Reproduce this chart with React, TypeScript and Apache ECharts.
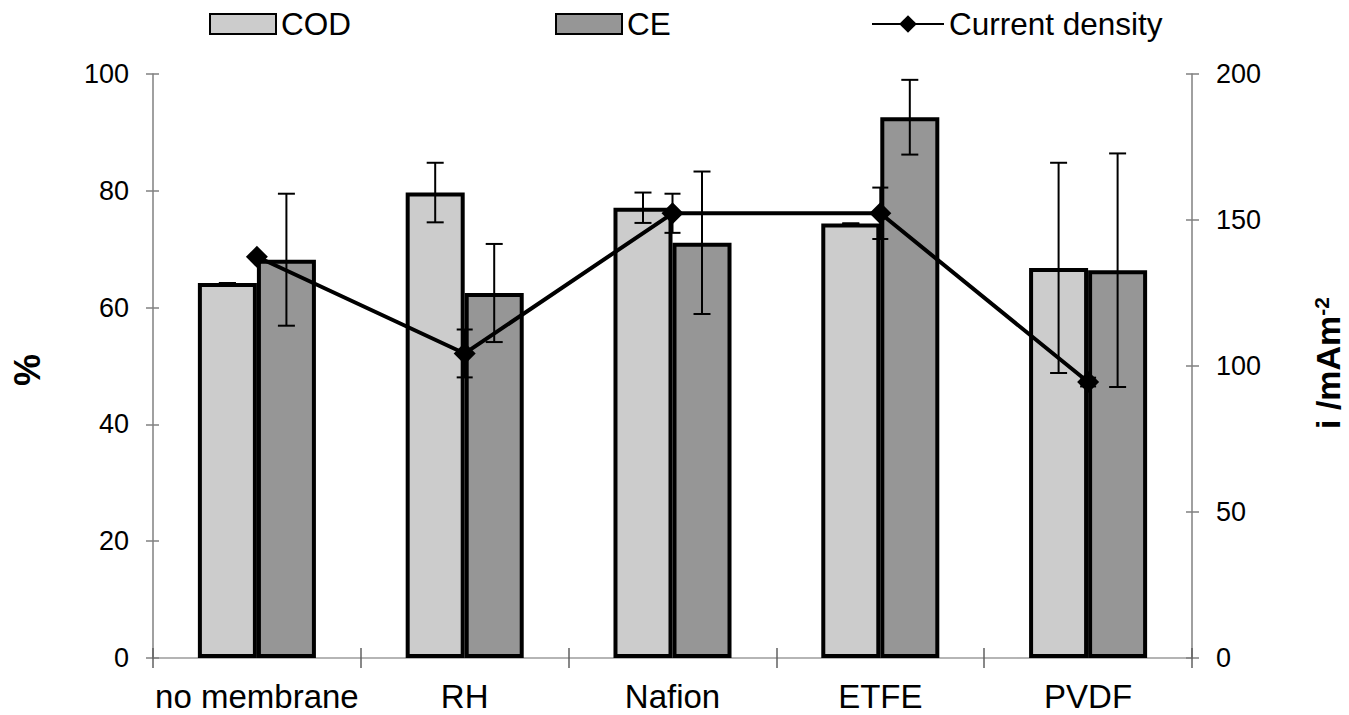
import React, { useEffect, useRef } from "react";
import * as echarts from "echarts";

const categories = ["no membrane", "RH", "Nafion", "ETFE", "PVDF"];
const codValues = [64.2, 79.7, 77.1, 74.4, 66.8];
const codErrors = [0, 5.1, 2.6, 0, 18];
const ceValues = [68.2, 62.5, 71.1, 92.6, 66.4];
const ceErrors = [11.3, 8.4, 12.2, 6.4, 20];
const currentDensity = [137.4, 104.3, 152.3, 152.3, 94.5];
const currentDensityErrors = [0, 8.2, 6.7, 8.8, 1.5];

const FONT = "'Liberation Sans', Arial, Helvetica, sans-serif";
const BAR_FRAC = 0.284;

function errRender(offsetFrac: number, capHalf: number) {
  return (params: any, api: any) => {
    const c = api.value(0);
    const v = api.value(1);
    const e = api.value(2);
    const bw = api.size([1, 0])[0];
    const x = api.coord([c, v])[0] + offsetFrac * bw;
    const yt = api.coord([c, v + e])[1];
    const yb = api.coord([c, v - e])[1];
    const st = { stroke: "#000", lineWidth: 2 };
    return {
      type: "group",
      children: [
        { type: "line", shape: { x1: x, y1: yt, x2: x, y2: yb }, style: st },
        { type: "line", shape: { x1: x - capHalf, y1: yt, x2: x + capHalf, y2: yt }, style: st },
        { type: "line", shape: { x1: x - capHalf, y1: yb, x2: x + capHalf, y2: yb }, style: st },
      ],
    };
  };
}

export default function App() {
  const ref = useRef<HTMLDivElement>(null);
  useEffect(() => {
    document.body.style.margin = "0";
    const chart = echarts.init(ref.current!, null, { renderer: "svg" });
    const axisLineGray = { lineStyle: { color: "#808080", width: 1.5 } };
    const legendText = { fontSize: 31.5, fontFamily: FONT, color: "#000" };
    const option: any = {
      animation: false,
      backgroundColor: "#fff",
      textStyle: { fontFamily: FONT, color: "#000" },
      grid: { left: 153, right: 157, top: 74, bottom: 57, containLabel: false },
      legend: [
        {
          data: [{ name: "COD", icon: "rect" }], left: 209, top: 8, padding: 0,
          itemWidth: 66, itemHeight: 20, textStyle: legendText,
        },
        {
          data: [{ name: "CE", icon: "rect" }], left: 555, top: 8, padding: 0,
          itemWidth: 66, itemHeight: 20, textStyle: legendText,
        },
        {
          data: ["Current density"], left: 871, top: 8, padding: 0,
          itemWidth: 72, itemHeight: 22, textStyle: legendText,
        },
      ],
      xAxis: [
        {
          type: "category", data: categories, position: "bottom",
          axisLine: { lineStyle: { color: "#606060", width: 1.5 } },
          axisTick: { show: true, length: 10, lineStyle: { color: "#606060", width: 1.5 } },
          axisLabel: { fontSize: 33, color: "#000", margin: 22, fontFamily: FONT, interval: 0 },
          splitLine: { show: false },
        },
        {
          type: "category", data: categories, position: "bottom",
          axisLine: { show: false },
          axisTick: { show: true, inside: true, length: 10, lineStyle: { color: "#606060", width: 1.5 } },
          axisLabel: { show: false },
          splitLine: { show: false },
        },
        {
          type: "category", data: categories, position: "top",
          axisLine: { lineStyle: { color: "#c4c4c4", width: 1.5 } },
          axisTick: { show: false },
          axisLabel: { show: false },
          splitLine: { show: false },
        },
      ],
      yAxis: [
        {
          type: "value", position: "left", min: 0, max: 100, interval: 20,
          axisLine: { show: true, ...axisLineGray },
          axisTick: { show: true, length: 7, lineStyle: { color: "#808080", width: 1.5 } },
          axisLabel: { fontSize: 27, color: "#000", margin: 24, fontFamily: FONT },
          splitLine: { show: false },
        },
        {
          type: "value", position: "left", min: 0, max: 100, interval: 20,
          axisLine: { show: false },
          axisTick: { show: true, inside: true, length: 6, lineStyle: { color: "#808080", width: 1.5 } },
          axisLabel: { show: false },
          splitLine: { show: false },
        },
        {
          type: "value", position: "right", min: 0, max: 200, interval: 50,
          axisLine: { show: true, ...axisLineGray },
          axisTick: { show: true, length: 7, lineStyle: { color: "#808080", width: 1.5 } },
          axisLabel: { fontSize: 27, color: "#000", margin: 24, fontFamily: FONT },
          splitLine: { show: false },
        },
        {
          type: "value", position: "right", min: 0, max: 200, interval: 50,
          axisLine: { show: false },
          axisTick: { show: true, inside: true, length: 6, lineStyle: { color: "#808080", width: 1.5 } },
          axisLabel: { show: false },
          splitLine: { show: false },
        },
      ],
      series: [
        {
          name: "COD", type: "bar", data: codValues, xAxisIndex: 0, yAxisIndex: 0,
          barWidth: (BAR_FRAC * 100).toFixed(1) + "%", barGap: "0%",
          itemStyle: { color: "#cccccc", borderColor: "#000", borderWidth: 4 },
          z: 2,
        },
        {
          name: "CE", type: "bar", data: ceValues, xAxisIndex: 0, yAxisIndex: 0,
          barWidth: (BAR_FRAC * 100).toFixed(1) + "%", barGap: "0%",
          itemStyle: { color: "#969696", borderColor: "#000", borderWidth: 4 },
          z: 2,
        },
        {
          name: "codErr", type: "custom", xAxisIndex: 0, yAxisIndex: 0,
          renderItem: errRender(-BAR_FRAC / 2, 8.5),
          data: codValues.map((v, i) => [i, v, codErrors[i]]),
          encode: { x: 0, y: 1 }, z: 3, silent: true,
        },
        {
          name: "ceErr", type: "custom", xAxisIndex: 0, yAxisIndex: 0,
          renderItem: errRender(BAR_FRAC / 2, 8.5),
          data: ceValues.map((v, i) => [i, v, ceErrors[i]]),
          encode: { x: 0, y: 1 }, z: 3, silent: true,
        },
        {
          name: "cdErr", type: "custom", xAxisIndex: 0, yAxisIndex: 2,
          renderItem: errRender(0, 8),
          data: currentDensity.map((v, i) => [i, v, currentDensityErrors[i]]),
          encode: { x: 0, y: 1 }, z: 4, silent: true,
        },
        {
          name: "Current density", type: "line", data: currentDensity,
          xAxisIndex: 0, yAxisIndex: 2,
          symbol: "diamond", symbolSize: 22,
          lineStyle: { color: "#000", width: 4 },
          itemStyle: { color: "#000" },
          z: 5,
        },
      ],
      graphic: [
        {
          type: "text", x: 27, y: 370, rotation: Math.PI / 2,
          style: {
            text: "%", font: `bold 36px ${FONT}`, fill: "#000",
            align: "center", verticalAlign: "middle",
          },
        },
        {
          type: "text", x: 1328, y: 363, rotation: Math.PI / 2,
          style: {
            text: "{a|i /mAm}{b|-2}", fill: "#000",
            align: "center", verticalAlign: "middle",
            rich: {
              a: { fontSize: 34, fontWeight: "bold", fontFamily: FONT, fill: "#000" },
              b: { fontSize: 21, fontWeight: "bold", fontFamily: FONT, fill: "#000", verticalAlign: "top" },
            },
          },
        },
      ],
    };
    chart.setOption(option);
    return () => chart.dispose();
  }, []);
  return (
    <div
      ref={ref}
      style={{ position: "absolute", left: 0, top: 0, width: 1349, height: 715 }}
    />
  );
}
